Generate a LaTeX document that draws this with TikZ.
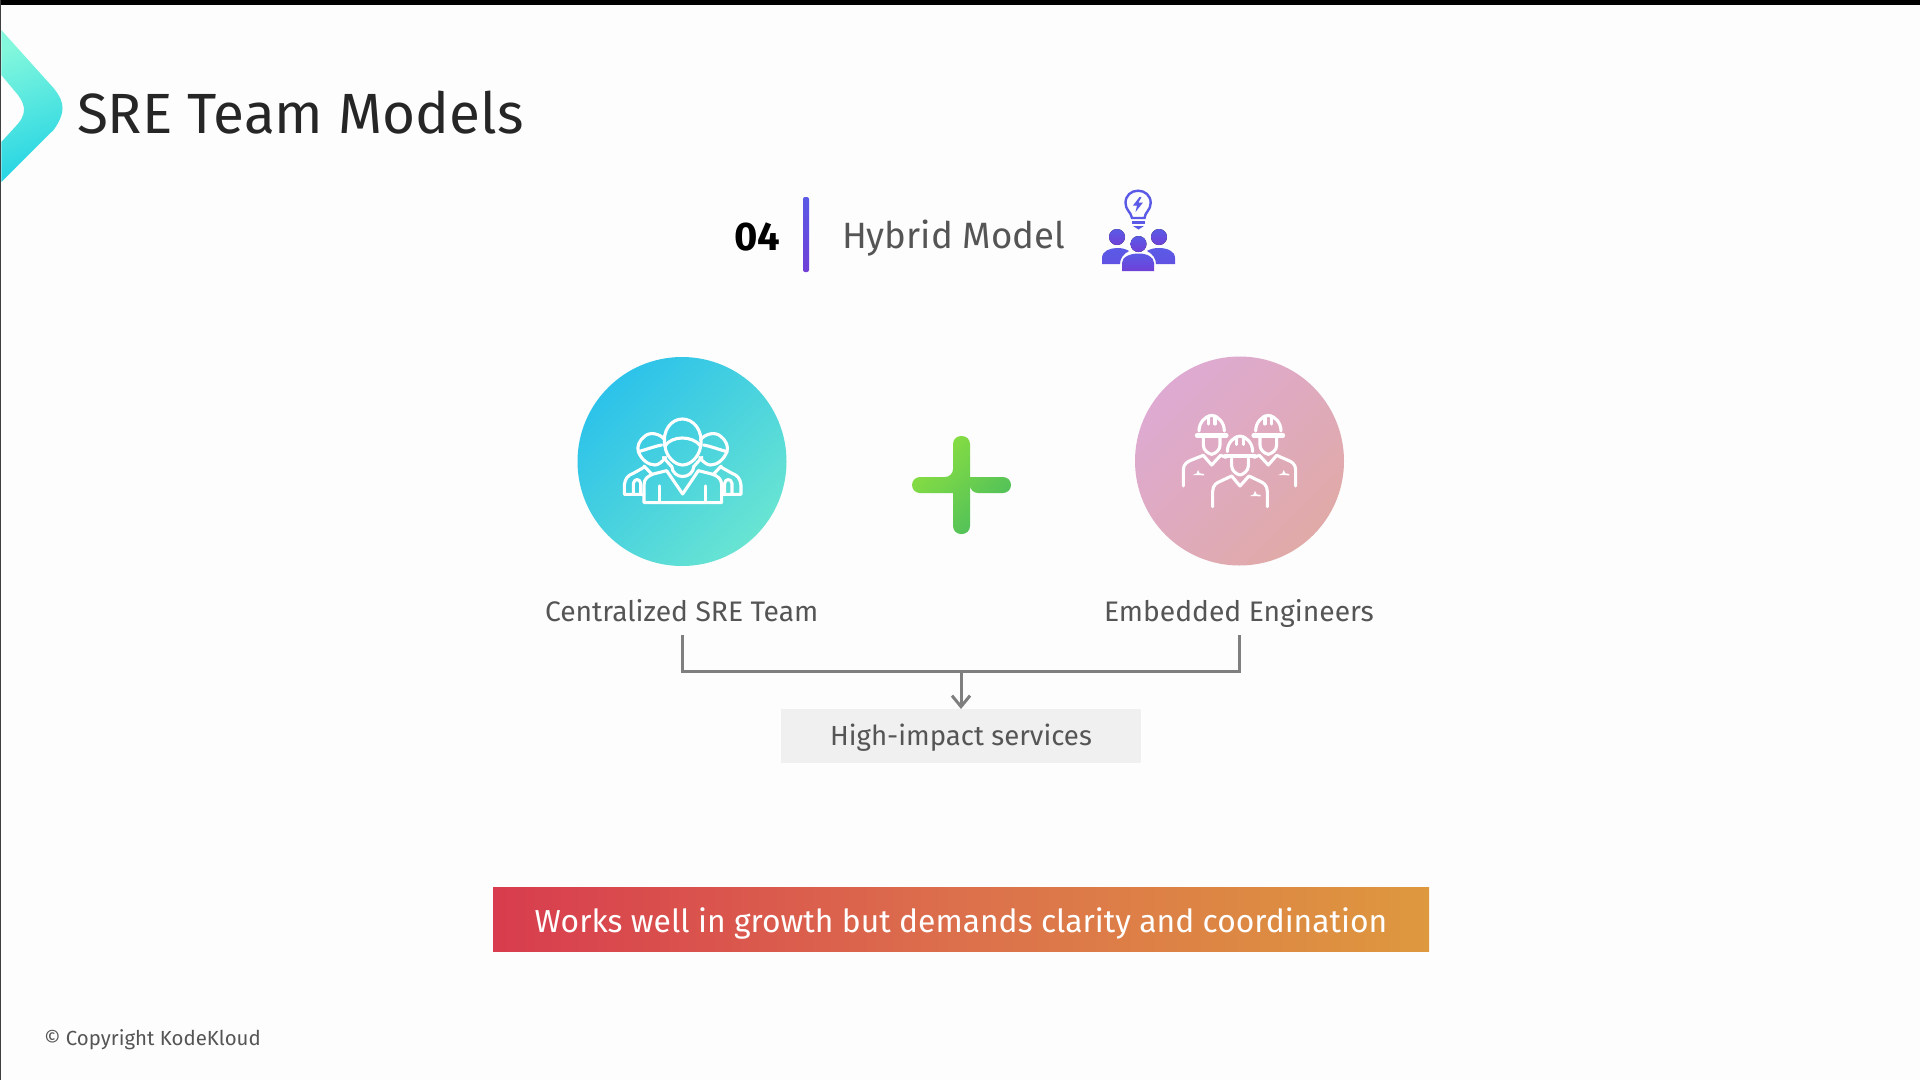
\documentclass[tikz,border=0pt]{standalone}
\usepackage{fontspec}
\setmainfont{Fira Sans}
\usetikzlibrary{arrows.meta,shapes.geometric}
\definecolor{pagebg}{HTML}{FDFDFD}
\definecolor{inkdark}{HTML}{262626}
\definecolor{inkgrey}{HTML}{555555}
\definecolor{linegrey}{HTML}{7F7F7F}
\definecolor{boxgrey}{HTML}{F0F0F0}
\definecolor{violetA}{HTML}{5A5AE6}
\definecolor{violetB}{HTML}{7040D8}
\tikzset{
  txt/.style={inner sep=0pt,outer sep=0pt,anchor=base},
  txtw/.style={inner sep=0pt,outer sep=0pt,anchor=base west},
  conn/.style={draw=linegrey,line width=3pt},
  iconline/.style={draw=white,line width=3.1pt,line cap=round,line join=round},
  vio/.style={top color=violetA,bottom color=violetB,draw=none},
  badge/.style={fill=white,draw=none},
  pics/worker/.style={code={
    \draw[iconline] (-38,-13) .. controls (-38,-38) and (-20,-58) .. (0,-60) .. controls (20,-58) and (38,-38) .. (38,-13);
    \draw[iconline,line width=4.4pt] (-44,0) -- (44,0);
    \draw[iconline] (-10,-58) -- (-10,-34) (10,-58) -- (10,-34);
    \draw[iconline] (-25,8) -- (-25,30) .. controls (-25,45) and (-10,55) .. (0,57) .. controls (10,55) and (25,45) .. (25,30) -- (25,8);
  }},
}
\begin{document}
\begin{tikzpicture}[x=1pt,y=-1pt]
\useasboundingbox (0,0) rectangle (1920,1080);
\fill[pagebg] (0,0) rectangle (1920,1080);
\fill[black] (0,0) rectangle (1920,4.5);
\fill[black!75] (0,0) rectangle (1.3,1080);
% chevron
\shade[shading=axis,left color={rgb,255:red,132;green,248;blue,220},right color={rgb,255:red,36;green,212;blue,228},shading angle=20]
  (1.3,30) -- (53.5,88) .. controls (60,96) and (62.5,102) .. (62.5,108) .. controls (62.5,116) and (58,124) .. (53.5,130) -- (1.3,182) -- (1.3,142) -- (16,126) .. controls (20,122) and (24,116) .. (24,110) .. controls (24,106) and (23,102) .. (18,95) -- (1.3,75) -- cycle;
% title
\node[txtw,font=\fontsize{56.7}{60}\selectfont,text=inkdark] (title) at (77,133) {SRE Team Models};
% header
\node[txtw,font=\fontsize{40}{44}\selectfont\bfseries,text=black] (num) at (734,250) {04};
\shade[top color=violetA,bottom color=violetB,rounded corners=2pt] (803,197) rectangle (809,272);
\node[txtw,font=\fontsize{36.6}{40}\selectfont,text=inkgrey] (hyb) at (842,248) {Hybrid Model};
% bulb icon
\draw[violetA,line width=2.4pt] (1132,218) .. controls (1131,212) and (1125.5,210) .. (1125.5,203) .. controls (1125.5,195.5) and (1131,190.7) .. (1138,190.7) .. controls (1145,190.7) and (1150.7,195.5) .. (1150.7,203) .. controls (1150.7,210) and (1145,212) .. (1144.5,218) -- cycle;
\fill[violetA] (1139.5,197) -- (1133,205.5) -- (1137,205.5) -- (1135.5,212) -- (1143,202.5) -- (1138.5,202.5) -- (1141.5,197) -- cycle;
\fill[violetA] (1132,221) rectangle (1145,223.5);
\fill[violetA] (1133,226) -- (1144,226) -- (1138.5,229.5) -- cycle;
% people icon
\fill[vio] (1117,237) circle[radius=8];
\fill[vio] (1159,237) circle[radius=8];
\shade[top color=violetA,bottom color=violetA!70!violetB] (1102,264) -- (1102,258) .. controls (1102,251) and (1110,248) .. (1117,248) .. controls (1122,248) and (1126,249) .. (1129,251) .. controls (1123,254) and (1120,259) .. (1120,264) -- cycle;
\shade[top color=violetA,bottom color=violetA!70!violetB] (1175,264) -- (1175,258) .. controls (1175,251) and (1167,248) .. (1159,248) .. controls (1154,248) and (1150,249) .. (1147,251) .. controls (1153,254) and (1156,259) .. (1156,264) -- cycle;
\fill[vio] (1138.5,244) circle[radius=8];
\shade[top color=violetA,bottom color=violetB] (1122,271) -- (1122,263) .. controls (1122,257) and (1130,253.5) .. (1138.5,253.5) .. controls (1147,253.5) and (1154,257) .. (1154,263) -- (1154,271) -- cycle;
% circles
\node[circle,minimum size=209pt,inner sep=0pt,shading=axis,left color={rgb,255:red,44;green,194;blue,234},right color={rgb,255:red,104;green,228;blue,210},shading angle=45] (cent) at (682,461.5) {};
\node[circle,minimum size=209pt,inner sep=0pt,shading=axis,left color={rgb,255:red,222;green,170;blue,210},right color={rgb,255:red,224;green,170;blue,168},shading angle=45] (emb) at (1239.5,461) {};
% team icon
\begin{scope}[shift={(570,350)},x=0.3333pt,y=-0.3333pt]
 \draw[iconline] (285,290) .. controls (275,240) and (305,207) .. (337,207) .. controls (370,207) and (400,240) .. (392,290);
 \draw[iconline] (285,288) .. controls (305,256) and (368,256) .. (392,288);
 \draw[iconline] (285,288) .. controls (288,320) and (315,345) .. (338,345) .. controls (362,345) and (388,320) .. (392,288);
 \draw[iconline] (305,348) .. controls (308,390) and (368,390) .. (372,348);
 \draw[iconline] (222,458) -- (222,405) .. controls (222,385) and (235,378) .. (250,372) -- (290,362) -- (338,432) -- (385,362) -- (425,372) .. controls (442,378) and (455,385) .. (455,405) -- (455,458) -- cycle;
 \draw[iconline] (268,408) -- (268,458) (407,408) -- (407,458);
 % left figure
 \draw[iconline] (285,270) .. controls (270,250) and (240,245) .. (225,258) .. controls (208,270) and (200,290) .. (205,305);
 \draw[iconline] (205,305) .. controls (225,300) and (250,290) .. (275,285);
 \draw[iconline] (205,305) .. controls (215,330) and (235,345) .. (255,345) .. controls (265,345) and (278,335) .. (287,322);
 \draw[iconline] (280,322) -- (305,350) (222,348) -- (245,372);
 \draw[iconline] (222,433) -- (163,433) -- (163,405) .. controls (165,385) and (175,375) .. (190,370) -- (222,352);
 \draw[iconline] (190,433) -- (190,400) .. controls (193,385) and (210,385) .. (212,400) -- (212,433);
 % right figure
 \draw[iconline] (391,270) .. controls (406,250) and (436,245) .. (451,258) .. controls (468,270) and (476,290) .. (471,305);
 \draw[iconline] (471,305) .. controls (451,300) and (426,290) .. (401,285);
 \draw[iconline] (471,305) .. controls (461,330) and (441,345) .. (421,345) .. controls (411,345) and (398,335) .. (389,322);
 \draw[iconline] (396,322) -- (371,350) (454,348) -- (431,372);
 \draw[iconline] (454,433) -- (513,433) -- (513,405) .. controls (511,385) and (501,375) .. (486,370) -- (454,352);
 \draw[iconline] (486,433) -- (486,400) .. controls (483,385) and (466,385) .. (464,400) -- (464,433);
\end{scope}
% engineers icon
\begin{scope}[shift={(1130,350)},x=0.3333pt,y=-0.3333pt]
 \pic at (245,256) {worker};
 \pic at (415,256) {worker};
 \pic at (330,318) {worker};
 % left worker body
 \draw[iconline] (160,408) -- (160,360) .. controls (160,342) and (172,335) .. (185,330) -- (220,316) -- (245,345) -- (272,316) -- (288,322);
 \fill[badge] (188,375) -- (200,370) -- (204,360) -- (209,370) -- (222,372) -- (222,376) -- cycle;
 % right worker body
 \draw[iconline] (497,408) -- (497,360) .. controls (497,342) and (485,335) .. (472,330) -- (440,316) -- (415,345) -- (388,316) -- (372,322);
 \fill[badge] (445,375) -- (457,370) -- (461,360) -- (466,370) -- (478,372) -- (478,376) -- cycle;
 % middle worker body
 \draw[iconline] (248,470) -- (248,425) .. controls (248,405) and (260,398) .. (273,393) -- (305,378) -- (330,408) -- (357,378) -- (388,393) .. controls (400,398) and (412,405) .. (412,425) -- (412,470);
 \fill[badge] (360,438) -- (371,433) -- (375,423) -- (380,433) -- (392,435) -- (392,439) -- cycle;
\end{scope}
% plus
\shade[shading=axis,left color={rgb,255:red,140;green,224;blue,64},right color={rgb,255:red,76;green,190;blue,92},shading angle=45,rounded corners=8pt]
  (953,436) -- (970,436) -- (970,477) [sharp corners] -- (970,477) [rounded corners=8pt] -- (1011,477) -- (1011,493) -- (970,493) [sharp corners] -- (970,493) [rounded corners=8pt] -- (970,534) -- (953,534) -- (953,493) [sharp corners] -- (953,493) [rounded corners=8pt] -- (912,493) -- (912,477) -- (953,477) [sharp corners] -- (953,477) [rounded corners=8pt] -- cycle;
% labels
\node[txtw,font=\fontsize{28.25}{32}\selectfont,text=inkgrey] (clabel) at (545,621) {Centralized SRE Team};
\node[txtw,font=\fontsize{28.25}{32}\selectfont,text=inkgrey] (elabel) at (1104,621) {Embedded Engineers};
% box and connectors
\node[inner sep=0pt,outer sep=0pt,minimum width=360pt,minimum height=54pt,fill=boxgrey] (box) at (961,736) {};
\node[txt,font=\fontsize{27.6}{32}\selectfont,text=inkgrey] (boxt) at (961,745) {High-impact services};
\coordinate (bl) at (682,635);
\coordinate (br) at (1239.5,635);
\coordinate (jl) at (682,671.5);
\coordinate (jr) at (1239.5,671.5);
\coordinate (jm) at (961,671.5);
\draw[conn] (bl) -- (jl) -- (jr) -- (br);
\draw[conn,-{Straight Barb[length=11pt,width=18pt,line width=3pt]}] (jm) -- (box.north);
% banner
\node[inner sep=0pt,outer sep=0pt,minimum width=936pt,minimum height=64pt,shading=axis,left color={rgb,255:red,216;green,60;blue,78},right color={rgb,255:red,222;green,152;blue,62},middle color={rgb,255:red,220;green,112;blue,76}] (banner) at (961,919) {};
\node[txt,font=\fontsize{31.8}{36}\selectfont,text=white] (bannert) at (961,932) {Works well in growth but demands clarity and coordination};
% copyright
\node[txtw,font=\fontsize{20.4}{24}\selectfont,text=inkgrey] (copy) at (44,1045) {© Copyright KodeKloud};
\end{tikzpicture}
\end{document}
